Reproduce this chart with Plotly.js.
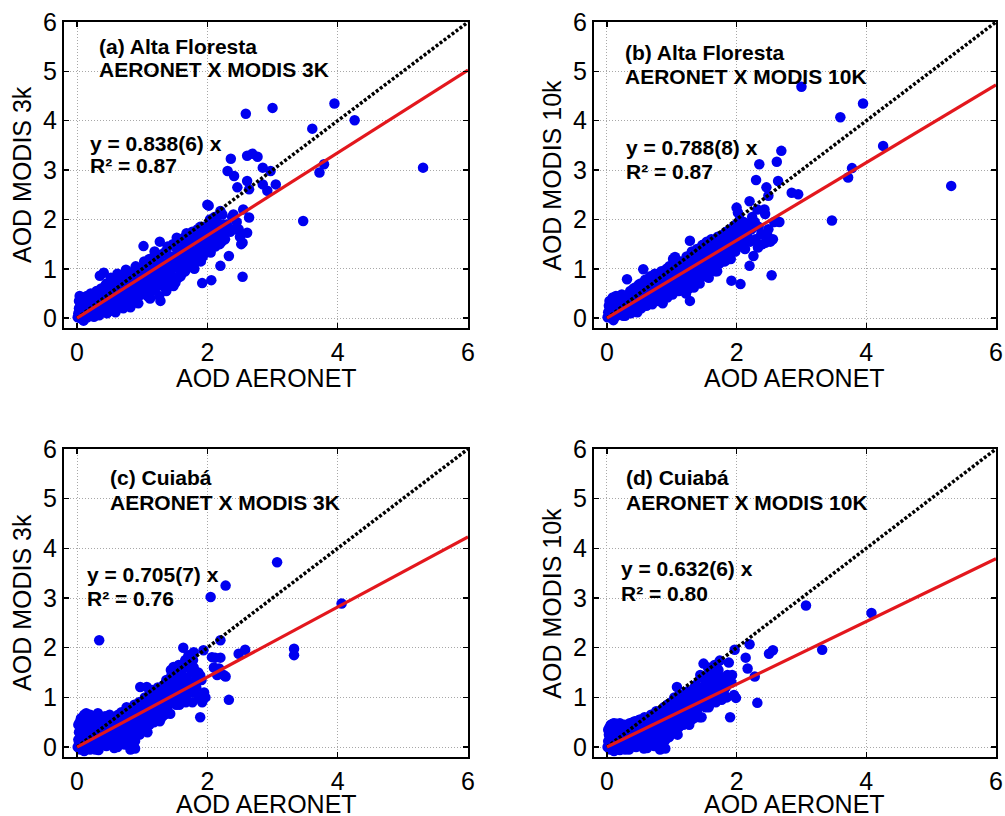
<!DOCTYPE html>
<html>
<head>
<meta charset="utf-8">
<script src="https://cdn.plot.ly/plotly-3.0.1.min.js"></script>
<style>html,body{margin:0;padding:0;background:#fff;}</style>
</head>
<body>
<div id="chart" style="width:1005px;height:816px;"></div>
<script>
// ---------- data ----------
const panelTitles = ["(a) Alta Floresta", "(b) Alta Floresta", "(c) Cuiabá", "(d) Cuiabá"];
const panelSubtitles = ["AERONET X MODIS 3K", "AERONET X MODIS 10K", "AERONET X MODIS 3K", "AERONET X MODIS 10K"];
const fitLabels = ["y = 0.838(6) x", "y = 0.788(8) x", "y = 0.705(7) x", "y = 0.632(6) x"];
const r2Labels = ["R² = 0.87", "R² = 0.87", "R² = 0.76", "R² = 0.80"];
const slopes = [0.838, 0.788, 0.705, 0.632];
const xTitle = "AOD AERONET";
const yTitles = ["AOD MODIS 3k", "AOD MODIS 10k", "AOD MODIS 3k", "AOD MODIS 10k"];
const xTicks = [0, 2, 4, 6];
const yTicks = [0, 1, 2, 3, 4, 5, 6];

// panel (a): AERONET vs MODIS 3k, Alta Floresta
const aPts = [[0.01,0.02],[0.02,0.1],[0.03,0.2],[0.03,0.35],[0.04,0.45],[0.05,0.0],[0.06,0.12],[0.07,0.28],[0.08,0.05],[0.09,0.4],[0.1,0.18],[0.1,-0.05],[0.12,0.1],[0.12,0.32],[0.14,0.22],[0.15,0.45],[0.16,0.02],[0.18,0.15],[0.19,0.35],[0.2,0.08],[0.21,0.5],[0.22,0.25],[0.24,0.12],[0.25,0.4],[0.26,0.03],[0.28,0.3],[0.3,0.18],[0.3,0.55],[0.32,0.08],[0.33,0.42],[0.35,0.25],[0.35,0.86],[0.37,0.6],[0.38,0.12],[0.4,0.35],[0.41,0.92],[0.42,0.5],[0.44,0.2],[0.45,0.7],[0.47,0.4],[0.5,0.3],[0.5,0.58],[0.52,0.82],[0.54,0.15],[0.55,0.45],[0.57,0.68],[0.6,0.35],[0.6,0.55],[0.62,0.9],[0.64,0.25],[0.65,0.62],[0.68,0.45],[0.7,0.75],[0.72,0.32],[0.74,0.58],[0.75,0.98],[0.78,0.42],[0.8,0.68],[0.82,0.22],[0.83,0.85],[0.85,0.52],[0.88,0.38],[0.9,0.75],[0.9,1.05],[0.93,0.6],[0.95,0.45],[0.98,0.85],[1.0,0.65],[1.02,1.46],[1.03,1.15],[1.05,0.5],[1.07,0.95],[1.1,0.75],[1.12,0.4],[1.13,1.1],[1.15,0.88],[1.18,0.6],[1.2,1.25],[1.22,1.0],[1.25,0.78],[1.27,1.55],[1.28,0.35],[1.3,1.12],[1.32,0.65],[1.34,0.92],[1.36,1.35],[1.4,0.8],[1.42,1.18],[1.45,1.0],[1.48,0.65],[1.5,1.45],[1.52,1.25],[1.53,1.63],[1.55,0.82],[1.58,1.1],[1.6,1.55],[1.62,0.92],[1.65,1.3],[1.68,1.72],[1.7,1.05],[1.72,1.45],[1.75,1.2],[1.78,1.62],[1.8,1.0],[1.82,1.35],[1.85,1.8],[1.88,1.5],[1.9,1.15],[1.92,0.71],[1.94,1.7],[1.96,1.4],[2.0,2.3],[2.02,2.28],[2.03,1.9],[2.05,1.33],[2.06,0.77],[2.08,1.6],[2.1,1.85],[2.12,1.45],[2.15,1.95],[2.18,1.7],[2.2,2.17],[2.2,1.06],[2.22,1.55],[2.25,1.9],[2.28,1.75],[2.31,2.98],[2.33,1.26],[2.36,3.23],[2.38,2.05],[2.41,2.88],[2.41,1.8],[2.45,1.95],[2.46,2.65],[2.5,1.65],[2.54,1.53],[2.54,0.84],[2.59,4.14],[2.61,3.29],[2.61,2.78],[2.61,1.73],[2.64,2.61],[2.64,2.04],[2.69,3.33],[2.77,3.27],[2.85,3.05],[2.85,2.71],[2.92,2.58],[2.97,2.98],[3.0,4.26],[3.05,2.71],[3.47,1.97],[3.61,3.84],[3.72,2.95],[3.79,3.12],[3.95,4.35],[4.26,4.01],[5.31,3.05],
[0.05,0.3],[0.08,0.18],[0.11,0.42],[0.13,0.05],[0.17,0.28],[0.2,0.42],[0.23,0.18],[0.27,0.48],[0.29,0.1],[0.31,0.38],[0.34,0.06],[0.36,0.3],[0.39,0.5],[0.41,0.18],[0.43,0.65],[0.46,0.1],[0.48,0.52],[0.49,0.2],[0.51,0.4],[0.53,0.62],[0.56,0.25],[0.58,0.78],[0.59,0.12],[0.61,0.42],[0.63,0.72],[0.66,0.3],[0.67,0.52],[0.69,0.85],[0.71,0.2],[0.73,0.65],[0.76,0.52],[0.77,0.3],[0.79,0.82],[0.81,0.45],[0.84,0.68],[0.86,0.32],[0.87,0.95],[0.89,0.55],[0.91,0.4],[0.92,0.85],[0.94,0.3],[0.96,0.72],[0.97,1.0],[0.99,0.5],[1.01,0.88],[1.04,0.62],[1.06,1.1],[1.08,0.45],[1.09,0.82],[1.11,1.2],[1.14,0.55],[1.16,1.02],[1.17,0.72],[1.19,1.35],[1.21,0.62],[1.23,0.88],[1.24,1.2],[1.26,0.45],[1.29,0.95],[1.31,1.3],[1.33,0.78],[1.35,1.1],[1.37,0.55],[1.38,0.98],[1.39,1.45],[1.41,0.7],[1.44,1.25],[1.46,0.85],[1.47,1.5],[1.49,1.12],[1.51,0.72],[1.54,1.38],[1.56,1.0],[1.57,1.5],[1.59,0.85],[1.61,1.25],[1.63,1.62],[1.64,1.1],[1.66,0.95],[1.67,1.45],[1.69,1.2],[1.71,1.6],[1.73,1.08],[1.76,1.35],[1.77,1.75],[1.79,1.25],[1.81,1.55],[1.84,1.15],[1.86,1.65],[1.87,1.3],[1.89,1.85],[1.91,1.45],[1.93,1.25],[1.95,1.85],[1.98,1.55],[2.01,1.7],[2.04,2.0],[2.07,1.5],[2.09,1.75],[2.11,2.05],[2.14,1.6],[2.17,1.85],[2.19,1.5],[2.23,2.1],[2.27,1.6],[2.3,1.9],[2.35,1.75],[2.4,2.1],[2.48,1.8],[2.52,1.5],[2.55,2.2]];

// panel (b): AERONET vs MODIS 10k, Alta Floresta
const bPts = [[0.01,0.02],[0.02,0.12],[0.03,0.25],[0.04,0.35],[0.05,0.02],[0.06,0.18],[0.07,0.3],[0.08,0.08],[0.09,0.42],[0.1,0.2],[0.1,-0.04],[0.12,0.12],[0.13,0.3],[0.14,0.45],[0.15,0.05],[0.17,0.22],[0.18,0.38],[0.2,0.1],[0.21,0.3],[0.23,0.48],[0.24,0.15],[0.26,0.35],[0.28,0.05],[0.29,0.25],[0.31,0.79],[0.32,0.42],[0.34,0.15],[0.36,0.55],[0.38,0.3],[0.4,0.45],[0.42,0.2],[0.44,0.62],[0.46,0.38],[0.48,0.5],[0.5,0.28],[0.52,0.7],[0.54,0.45],[0.56,0.99],[0.57,0.6],[0.6,0.35],[0.62,0.55],[0.64,0.8],[0.66,0.45],[0.68,0.65],[0.7,0.28],[0.72,0.55],[0.74,0.9],[0.76,0.42],[0.78,0.7],[0.8,0.55],[0.82,0.85],[0.85,0.4],[0.87,0.65],[0.9,0.78],[0.92,1.0],[0.95,0.55],[0.97,0.85],[1.0,0.7],[1.02,1.2],[1.05,1.24],[1.06,0.95],[1.08,0.6],[1.1,0.82],[1.13,1.05],[1.15,0.72],[1.18,0.95],[1.2,1.15],[1.22,0.5],[1.25,0.85],[1.28,1.57],[1.28,0.35],[1.3,1.05],[1.32,0.75],[1.35,1.25],[1.38,0.95],[1.4,1.15],[1.43,0.7],[1.45,1.35],[1.48,1.05],[1.5,1.5],[1.52,0.85],[1.55,1.25],[1.58,1.55],[1.6,1.0],[1.62,1.4],[1.65,1.2],[1.68,1.6],[1.7,0.95],[1.72,1.35],[1.75,1.5],[1.78,1.15],[1.8,1.7],[1.83,1.4],[1.85,1.55],[1.88,1.25],[1.9,1.8],[1.92,0.76],[1.93,1.5],[1.95,1.65],[1.98,1.35],[2.0,2.24],[2.02,2.14],[2.03,1.85],[2.06,0.69],[2.07,1.55],[2.1,1.75],[2.13,1.4],[2.15,1.9],[2.18,1.6],[2.2,2.37],[2.2,1.06],[2.23,1.8],[2.26,1.26],[2.28,1.95],[2.3,2.8],[2.32,2.2],[2.33,1.43],[2.35,3.12],[2.38,1.7],[2.44,2.11],[2.45,1.53],[2.46,2.65],[2.49,2.48],[2.49,1.8],[2.54,0.87],[2.56,1.6],[2.62,3.17],[2.62,1.97],[2.64,2.78],[2.69,3.39],[2.85,2.54],[2.95,2.51],[3.0,4.69],[3.47,1.98],[3.6,4.07],[3.72,2.85],[3.78,3.04],[3.95,4.35],[4.26,3.49],[5.31,2.68],
[0.05,0.28],[0.08,0.15],[0.11,0.35],[0.13,0.05],[0.16,0.28],[0.19,0.45],[0.22,0.2],[0.25,0.05],[0.27,0.45],[0.3,0.12],[0.33,0.3],[0.35,0.5],[0.37,0.1],[0.39,0.38],[0.41,0.6],[0.43,0.25],[0.45,0.5],[0.47,0.12],[0.49,0.68],[0.51,0.38],[0.53,0.2],[0.55,0.6],[0.58,0.42],[0.59,0.78],[0.61,0.25],[0.63,0.68],[0.65,0.5],[0.67,0.85],[0.69,0.38],[0.71,0.7],[0.73,0.45],[0.75,0.62],[0.77,0.85],[0.79,0.35],[0.81,0.68],[0.83,0.5],[0.84,0.95],[0.86,0.3],[0.88,0.75],[0.89,0.55],[0.91,0.88],[0.93,0.42],[0.94,0.68],[0.96,1.05],[0.98,0.55],[0.99,0.8],[1.01,0.48],[1.03,0.92],[1.04,0.68],[1.07,1.08],[1.09,0.78],[1.11,0.55],[1.12,0.95],[1.14,1.15],[1.16,0.62],[1.17,0.88],[1.19,1.05],[1.21,0.72],[1.23,1.25],[1.24,0.95],[1.26,0.6],[1.27,1.1],[1.29,0.82],[1.31,1.35],[1.33,0.95],[1.34,0.62],[1.36,1.15],[1.37,0.85],[1.39,1.4],[1.41,1.0],[1.42,0.8],[1.44,1.2],[1.46,0.9],[1.47,1.48],[1.49,1.1],[1.51,1.3],[1.53,0.95],[1.54,1.55],[1.56,1.15],[1.57,0.82],[1.59,1.35],[1.61,1.6],[1.63,1.1],[1.64,1.3],[1.66,1.5],[1.67,0.95],[1.69,1.25],[1.71,1.65],[1.73,1.1],[1.74,1.4],[1.76,1.6],[1.79,1.3],[1.81,1.5],[1.82,1.15],[1.84,1.75],[1.86,1.35],[1.87,1.6],[1.89,1.45],[1.91,1.2],[1.94,1.75],[1.96,1.5],[1.99,1.9],[2.01,1.6],[2.04,1.75],[2.05,2.0],[2.08,1.45],[2.11,1.95],[2.16,1.7],[2.21,1.55],[2.24,2.05],[2.29,1.6],[2.34,1.85],[2.4,1.5],[2.43,2.2],[2.47,1.7],[2.52,1.55],[2.58,1.95],[2.66,1.95]];

// panel (c): AERONET vs MODIS 3k, Cuiabá
const cPts = [[0.01,0.0],[0.02,0.15],[0.03,0.3],[0.04,0.5],[0.05,-0.05],[0.06,0.22],[0.07,0.4],[0.08,0.08],[0.09,0.6],[0.1,0.3],[0.11,-0.08],[0.12,0.15],[0.13,0.48],[0.14,0.68],[0.15,0.05],[0.16,0.35],[0.18,0.2],[0.19,0.55],[0.2,-0.05],[0.21,0.1],[0.22,0.4],[0.24,0.25],[0.25,0.62],[0.26,0.0],[0.28,0.15],[0.3,0.45],[0.31,0.3],[0.32,0.68],[0.33,-0.06],[0.34,2.15],[0.35,0.12],[0.37,0.5],[0.38,0.25],[0.4,0.6],[0.42,0.05],[0.44,0.35],[0.46,0.18],[0.48,0.55],[0.5,0.65],[0.52,0.3],[0.54,0.1],[0.56,0.45],[0.58,0.6],[0.6,0.25],[0.62,0.0],[0.64,0.5],[0.66,0.35],[0.68,0.7],[0.7,0.15],[0.72,0.55],[0.74,0.4],[0.76,0.8],[0.78,0.25],[0.8,0.62],[0.82,-0.05],[0.84,0.45],[0.86,0.75],[0.87,0.1],[0.89,-0.03],[0.89,0.12],[0.9,0.55],[0.92,0.85],[0.94,0.35],[0.96,0.65],[0.97,1.21],[0.98,0.9],[1.0,0.45],[1.02,0.75],[1.04,1.0],[1.06,0.55],[1.07,1.21],[1.08,0.3],[1.1,0.85],[1.12,1.1],[1.14,0.65],[1.16,0.95],[1.18,0.5],[1.2,0.8],[1.22,1.15],[1.25,0.7],[1.28,1.0],[1.3,0.6],[1.32,0.9],[1.35,1.2],[1.38,0.75],[1.4,1.05],[1.43,0.67],[1.45,1.45],[1.47,0.9],[1.48,1.61],[1.5,1.15],[1.52,0.85],[1.55,1.3],[1.58,1.48],[1.6,0.95],[1.62,1.2],[1.63,2.0],[1.65,1.4],[1.68,1.05],[1.7,1.6],[1.72,1.25],[1.75,1.8],[1.77,0.9],[1.79,1.91],[1.79,1.6],[1.8,1.1],[1.82,1.35],[1.87,1.0],[1.89,1.44],[1.89,0.6],[1.92,0.9],[1.94,1.95],[1.97,1.0],[2.05,3.02],[2.07,1.81],[2.12,1.8],[2.15,1.45],[2.18,1.58],[2.2,2.15],[2.25,1.45],[2.28,3.25],[2.28,1.42],[2.33,0.95],[2.48,1.88],[2.58,1.96],[3.07,3.72],[3.33,1.98],[3.33,1.85],[4.06,2.89],
[0.02,0.45],[0.03,0.08],[0.05,0.38],[0.06,0.58],[0.08,0.25],[0.09,0.02],[0.1,0.45],[0.11,0.65],[0.13,0.22],[0.14,0.02],[0.15,0.58],[0.17,0.45],[0.18,-0.02],[0.19,0.3],[0.2,0.65],[0.22,0.15],[0.23,0.52],[0.25,0.35],[0.27,0.6],[0.28,-0.05],[0.29,0.28],[0.3,0.05],[0.32,0.48],[0.33,0.2],[0.35,0.62],[0.36,0.35],[0.38,0.05],[0.39,0.45],[0.41,0.28],[0.43,0.62],[0.45,0.02],[0.46,0.48],[0.47,0.3],[0.49,0.15],[0.5,0.42],[0.51,0.62],[0.53,0.22],[0.55,0.58],[0.57,-0.02],[0.58,0.35],[0.59,0.5],[0.61,0.15],[0.63,0.65],[0.65,0.42],[0.66,0.08],[0.67,0.55],[0.69,0.3],[0.7,0.62],[0.71,0.45],[0.73,0.05],[0.75,0.68],[0.77,0.5],[0.79,0.12],[0.8,0.38],[0.81,0.75],[0.83,0.58],[0.85,0.25],[0.87,0.45],[0.88,0.85],[0.9,0.3],[0.91,0.7],[0.93,0.52],[0.95,0.9],[0.96,0.25],[0.98,0.62],[0.99,0.8],[1.01,0.55],[1.03,0.9],[1.05,0.38],[1.06,0.72],[1.08,1.0],[1.09,0.6],[1.11,0.45],[1.13,0.85],[1.15,1.15],[1.17,0.68],[1.19,1.0],[1.21,0.55],[1.23,0.9],[1.24,1.2],[1.26,0.75],[1.27,0.52],[1.29,1.1],[1.31,0.82],[1.33,1.25],[1.34,0.65],[1.36,0.95],[1.37,1.35],[1.39,0.82],[1.41,1.2],[1.42,0.95],[1.44,1.55],[1.46,1.05],[1.49,1.3],[1.51,0.95],[1.53,1.45],[1.54,1.1],[1.56,1.65],[1.57,0.85],[1.59,1.35],[1.61,1.55],[1.64,1.15],[1.66,1.75],[1.67,0.9],[1.69,1.35],[1.71,1.85],[1.73,1.1],[1.76,1.5],[1.78,1.75],[1.83,1.2],[1.86,1.5],[1.91,1.35],[1.95,1.1],[2.1,1.6],[2.2,1.8]];

// panel (d): AERONET vs MODIS 10k, Cuiabá
const dPts = [[0.01,0.0],[0.02,0.12],[0.03,0.25],[0.04,0.4],[0.05,-0.05],[0.06,0.18],[0.07,0.32],[0.08,0.05],[0.09,0.47],[0.1,0.22],[0.11,-0.08],[0.12,0.1],[0.13,0.35],[0.15,0.47],[0.15,0.02],[0.16,0.25],[0.18,0.12],[0.19,0.4],[0.2,-0.06],[0.21,0.05],[0.22,0.3],[0.24,0.18],[0.25,0.42],[0.26,-0.02],[0.28,0.1],[0.3,0.3],[0.31,0.2],[0.33,0.45],[0.34,-0.05],[0.35,0.1],[0.37,0.35],[0.38,0.2],[0.4,0.5],[0.42,0.05],[0.44,0.28],[0.46,0.15],[0.48,0.45],[0.5,0.55],[0.52,0.25],[0.54,0.08],[0.56,0.38],[0.58,0.6],[0.6,0.2],[0.62,-0.02],[0.64,0.45],[0.66,0.3],[0.68,0.65],[0.7,0.1],[0.72,0.5],[0.74,0.35],[0.76,0.72],[0.78,0.2],[0.8,0.55],[0.82,-0.05],[0.84,0.4],[0.86,0.75],[0.87,0.08],[0.9,-0.03],[0.9,0.14],[0.91,0.5],[0.93,0.85],[0.95,0.3],[0.97,0.6],[0.99,0.9],[1.0,0.4],[1.02,0.7],[1.04,1.0],[1.06,0.5],[1.08,1.21],[1.09,0.25],[1.1,0.8],[1.12,1.05],[1.14,0.6],[1.16,0.9],[1.18,0.45],[1.2,0.75],[1.22,1.1],[1.25,0.65],[1.28,0.95],[1.3,0.55],[1.32,0.85],[1.35,1.2],[1.38,0.7],[1.4,1.0],[1.43,0.6],[1.45,1.4],[1.46,0.6],[1.48,0.85],[1.49,1.68],[1.5,1.1],[1.52,0.8],[1.55,1.3],[1.58,1.5],[1.6,0.95],[1.62,1.15],[1.65,1.4],[1.68,1.05],[1.69,1.61],[1.72,1.25],[1.74,1.74],[1.77,0.95],[1.8,1.1],[1.82,1.35],[1.85,1.0],[1.88,1.7],[1.9,1.38],[1.9,0.6],[1.93,1.45],[1.97,1.96],[1.99,0.99],[2.14,1.8],[2.17,1.58],[2.2,2.07],[2.28,1.42],[2.32,0.89],[2.5,1.88],[2.56,1.95],[3.07,2.85],[3.32,1.96],[4.08,2.7],
[0.02,0.35],[0.03,0.05],[0.05,0.3],[0.06,0.45],[0.08,0.2],[0.09,-0.02],[0.1,0.38],[0.11,0.48],[0.13,0.18],[0.14,0.0],[0.15,0.35],[0.17,0.42],[0.18,-0.04],[0.19,0.25],[0.2,0.48],[0.22,0.12],[0.23,0.38],[0.25,0.25],[0.27,0.45],[0.28,-0.05],[0.29,0.22],[0.3,0.02],[0.32,0.38],[0.33,0.15],[0.35,0.48],[0.36,0.28],[0.38,0.02],[0.39,0.4],[0.41,0.22],[0.43,0.52],[0.45,0.0],[0.46,0.38],[0.47,0.25],[0.49,0.1],[0.5,0.35],[0.51,0.55],[0.53,0.18],[0.55,0.5],[0.57,-0.03],[0.58,0.3],[0.59,0.45],[0.61,0.1],[0.63,0.58],[0.65,0.38],[0.66,0.05],[0.67,0.5],[0.69,0.25],[0.7,0.62],[0.71,0.4],[0.73,0.02],[0.75,0.6],[0.77,0.45],[0.79,0.1],[0.8,0.32],[0.81,0.7],[0.83,0.52],[0.85,0.2],[0.87,0.42],[0.88,0.8],[0.9,0.28],[0.91,0.65],[0.93,0.45],[0.95,0.85],[0.96,0.2],[0.98,0.55],[0.99,0.75],[1.01,0.5],[1.03,0.85],[1.05,0.32],[1.06,0.65],[1.08,0.95],[1.09,0.55],[1.11,0.4],[1.13,0.78],[1.15,1.05],[1.17,0.6],[1.19,0.92],[1.21,0.5],[1.23,0.82],[1.24,1.12],[1.26,0.68],[1.27,0.45],[1.29,1.0],[1.31,0.75],[1.33,1.15],[1.34,0.58],[1.36,0.88],[1.37,1.25],[1.39,0.75],[1.41,1.1],[1.42,0.88],[1.44,1.45],[1.46,0.98],[1.49,1.22],[1.51,0.9],[1.53,1.4],[1.54,1.05],[1.56,1.6],[1.57,0.8],[1.59,1.28],[1.61,1.5],[1.64,1.1],[1.66,1.65],[1.68,0.9],[1.7,1.3],[1.72,1.55],[1.75,1.15],[1.78,1.4],[1.83,1.2],[1.86,1.45],[1.92,1.3],[1.96,1.05]];

const panels = [aPts, bPts, cPts, dPts];
const axisRange = [-0.2, 6];

// ---------- layout helpers ----------
const xDomains = [[0.0637, 0.4657], [0.5910, 0.9910], [0.0637, 0.4657], [0.5910, 0.9910]];
const yDomains = [[0.598, 0.973], [0.598, 0.973], [0.0723, 0.4498], [0.0723, 0.4498]];
const xTitleY = [0.5362, 0.5362, 0.0150, 0.0150];
const yTitleX = [0.0219, 0.549, 0.0219, 0.549];
const FONT = "Liberation Sans, Arial, Helvetica, sans-serif";

const traces = [];
const layout = {
  width: 1005, height: 816,
  margin: {l: 0, r: 0, t: 0, b: 0},
  paper_bgcolor: "#ffffff", plot_bgcolor: "#ffffff",
  showlegend: false,
  font: {family: FONT, color: "#000"},
  annotations: []
};

function axisStyle(extra) {
  return Object.assign({
    range: axisRange, autorange: false,
    showline: true, linecolor: "#000", linewidth: 2, mirror: "ticks",
    ticks: "inside", ticklen: 5, tickwidth: 1.5, tickcolor: "#000",
    showgrid: true, gridcolor: "#a8a8a8", gridwidth: 1, griddash: "1px,2px",
    zeroline: false,
    tickfont: {family: FONT, size: 25, color: "#000"}
  }, extra);
}

panels.forEach(function (pts, i) {
  const n = i === 0 ? "" : String(i + 1);
  const xa = "x" + n, ya = "y" + n;
  traces.push({
    type: "scatter", mode: "markers", xaxis: xa, yaxis: ya,
    x: pts.map(p => p[0]), y: pts.map(p => p[1]),
    marker: {color: "#0000f0", size: 10.5, line: {width: 0}},
    hoverinfo: "skip"
  });
  traces.push({
    type: "scatter", mode: "lines", xaxis: xa, yaxis: ya,
    x: [0, axisRange[1]], y: [0, axisRange[1]],
    line: {color: "#000", width: 3.5, dash: "3px,2px"}, hoverinfo: "skip"
  });
  traces.push({
    type: "scatter", mode: "lines", xaxis: xa, yaxis: ya,
    x: [0, axisRange[1]], y: [0, slopes[i] * axisRange[1]],
    line: {color: "#e3171d", width: 3.2}, hoverinfo: "skip"
  });

  layout["xaxis" + n] = axisStyle({
    domain: xDomains[i], anchor: ya, tickvals: xTicks, ticklabelstandoff: 1
  });
  layout["yaxis" + n] = axisStyle({
    domain: yDomains[i], anchor: xa, tickvals: yTicks, ticklabelstandoff: 0
  });

  // axis titles
  layout.annotations.push({
    xref: "paper", yref: "paper",
    x: (xDomains[i][0] + xDomains[i][1]) / 2, y: xTitleY[i],
    xanchor: "center", yanchor: "middle", showarrow: false,
    text: xTitle, font: {family: FONT, size: 25, color: "#000"}
  });
  layout.annotations.push({
    xref: "paper", yref: "paper",
    x: yTitleX[i], y: (yDomains[i][0] + yDomains[i][1]) / 2,
    xanchor: "center", yanchor: "middle", showarrow: false, textangle: -90,
    text: yTitles[i], font: {family: FONT, size: 25, color: "#000"}
  });

  const textPos = [
    {tx: 0.30, t1: 5.50, t2: 5.03, fx: 0.17, f1: 3.54, f2: 3.10},
    {tx: 0.25, t1: 5.38, t2: 4.89, fx: 0.26, f1: 3.46, f2: 2.97},
    {tx: 0.48, t1: 5.42, t2: 4.93, fx: 0.12, f1: 3.47, f2: 3.00},
    {tx: 0.27, t1: 5.42, t2: 4.93, fx: 0.19, f1: 3.59, f2: 3.10}
  ][i];
  const lines = [
    [panelTitles[i], textPos.tx, textPos.t1],
    [panelSubtitles[i], textPos.tx, textPos.t2],
    [fitLabels[i], textPos.fx, textPos.f1],
    [r2Labels[i], textPos.fx, textPos.f2]
  ];
  lines.forEach(function (L) {
    layout.annotations.push({
      xref: xa, yref: ya, x: L[1], y: L[2], text: "<b>" + L[0] + "</b>",
      showarrow: false, xanchor: "left", yanchor: "middle",
      font: {family: FONT, size: 21, color: "#000"}
    });
  });
});

Plotly.newPlot("chart", traces, layout, {staticPlot: true, displayModeBar: false});
</script>
</body>
</html>
